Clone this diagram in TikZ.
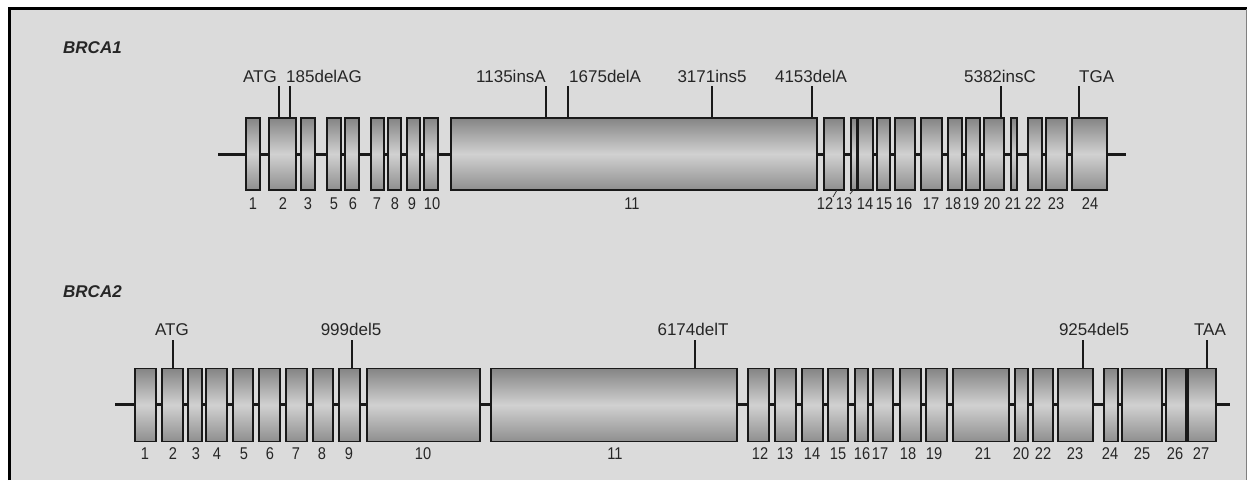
\documentclass[tikz,border=0pt]{standalone}
\usepackage{fontspec}
\setmainfont{Liberation Sans}
\newfontfamily\numfont[FakeStretch=0.86]{Liberation Sans}
\begin{document}
\begin{tikzpicture}[x=1pt,y=-1pt,
  exon/.style={draw=black!90, line width=1.6pt, inner sep=0pt, rectangle,
    top color=black!48, bottom color=black!44, middle color=black!18},
  backbone/.style={line width=3pt, black!90},
  mut/.style={line width=1.4pt, black!90},
  tick/.style={line width=0.8pt, black!80},
  mlab/.style={font=\fontsize{17}{19}\selectfont, text=black!85, inner sep=0pt, anchor=base},
  num/.style={font=\numfont\fontsize{17}{19}\selectfont, text=black!85, inner sep=0pt, anchor=base},
  title/.style={font=\fontsize{17}{19}\selectfont\bfseries\itshape, text=black!85, inner sep=0pt, anchor=base west}]
\useasboundingbox (0,0) rectangle (1248,480);
\fill[white] (0,0) rectangle (1248,480);
\fill[black!14] (10,9) rectangle (1246,480);
\draw[line width=3pt] (9.5,480) -- (9.5,8.5) -- (1247,8.5);
\draw[black!50, line width=1pt] (1246,9) -- (1246,480);

% ---------------- BRCA1 ----------------
\node[title] (t1) at (63,53) {BRCA1};
\coordinate (a1s) at (218,154);
\coordinate (a1e) at (1126,154);
\draw[backbone] (a1s) -- (a1e);
\foreach \n/\xa/\xb/\lx in {1/246/260/253, 2/269/296/283, 3/301/315/308, 5/327/341/334,
  6/345/359/353, 7/371/384/377, 8/388/401/395, 9/407/420/412, 10/424/438/432,
  11/451/817/632, 12/824/844/825, 13/851/857/844, 14/858/873/865, 15/877/890/884,
  16/895/915/904, 17/921/942/931, 18/948/962/953, 19/966/980/971, 20/984/1004/992,
  21/1011/1017/1013, 22/1028/1042/1033, 23/1046/1067/1056, 24/1072/1107/1090}{
  \pgfmathsetmacro{\w}{\xb-\xa}
  \node[exon, minimum width={\w pt}, minimum height=72pt] (a\n) at ({(\xa+\xb)/2},154) {};
  \node[num] (na\n) at (\lx,209) {\n};
}
\draw[tick] (833,197) -- (837,190);
\draw[tick] (850,194) -- (854,189);

% mutations BRCA1
\coordinate (ma1) at (279,86);
\coordinate (ma2) at (290,86);
\coordinate (ma3) at (546,86);
\coordinate (ma4) at (568,86);
\coordinate (ma5) at (712,86);
\coordinate (ma6) at (812,86);
\coordinate (ma7) at (1001,86);
\coordinate (ma8) at (1079,86);
\draw[mut] (ma1) -- (ma1 |- a2.north);
\draw[mut] (ma2) -- (ma2 |- a2.north);
\draw[mut] (ma3) -- (ma3 |- a11.north);
\draw[mut] (ma4) -- (ma4 |- a11.north);
\draw[mut] (ma5) -- (ma5 |- a11.north);
\draw[mut] (ma6) -- (ma6 |- a11.north);
\draw[mut] (ma7) -- (ma7 |- a20.north);
\draw[mut] (ma8) -- (ma8 |- a24.north);
\node[mlab, anchor=base east] (la1) at (277,82) {ATG};
\node[mlab, anchor=base west] (la2) at (286,82) {185delAG};
\node[mlab, anchor=base east] (la3) at (546,82) {1135insA};
\node[mlab, anchor=base west] (la4) at (569,82) {1675delA};
\node[mlab] (la5) at (712,82) {3171ins5};
\node[mlab] (la6) at (811,82) {4153delA};
\node[mlab] (la7) at (1000,82) {5382insC};
\node[mlab, anchor=base west] (la8) at (1079,82) {TGA};

% ---------------- BRCA2 ----------------
\node[title] (t2) at (63,297) {BRCA2};
\coordinate (b1s) at (115,404);
\coordinate (b1e) at (1230,404);
\draw[backbone] (b1s) -- (b1e);
\foreach \n/\xa/\xb/\lx in {1/135/156/145, 2/162/183/173, 3/188/202/196, 4/206/227/217,
  5/233/253/244, 6/259/280/270, 7/286/307/296, 8/313/333/322, 9/339/360/349,
  10/367/480/423, 11/491/737/615, 12/748/769/760, 13/775/796/785, 14/802/823/812,
  15/828/848/838, 16/855/868/862, 17/873/893/880, 18/900/921/908, 19/926/947/934,
  21/953/1009/983, 20/1015/1028/1021, 22/1033/1053/1043, 23/1058/1093/1075,
  24/1104/1118/1110, 25/1122/1162/1142, 26/1166/1186/1175, 27/1188/1216/1201}{
  \pgfmathsetmacro{\w}{\xb-\xa}
  \node[exon, minimum width={\w pt}, minimum height=73pt] (b\n) at ({(\xa+\xb)/2},405) {};
  \node[num] (nb\n) at (\lx,459) {\n};
}

% mutations BRCA2
\coordinate (mb1) at (173,340);
\coordinate (mb2) at (352,340);
\coordinate (mb3) at (695,340);
\coordinate (mb4) at (1083,340);
\coordinate (mb5) at (1207,340);
\draw[mut] (mb1) -- (mb1 |- b2.north);
\draw[mut] (mb2) -- (mb2 |- b9.north);
\draw[mut] (mb3) -- (mb3 |- b11.north);
\draw[mut] (mb4) -- (mb4 |- b23.north);
\draw[mut] (mb5) -- (mb5 |- b27.north);
\node[mlab] (lb1) at (172,335) {ATG};
\node[mlab] (lb2) at (351,335) {999del5};
\node[mlab] (lb3) at (693,335) {6174delT};
\node[mlab] (lb4) at (1094,335) {9254del5};
\node[mlab] (lb5) at (1210,335) {TAA};
\end{tikzpicture}
\end{document}
